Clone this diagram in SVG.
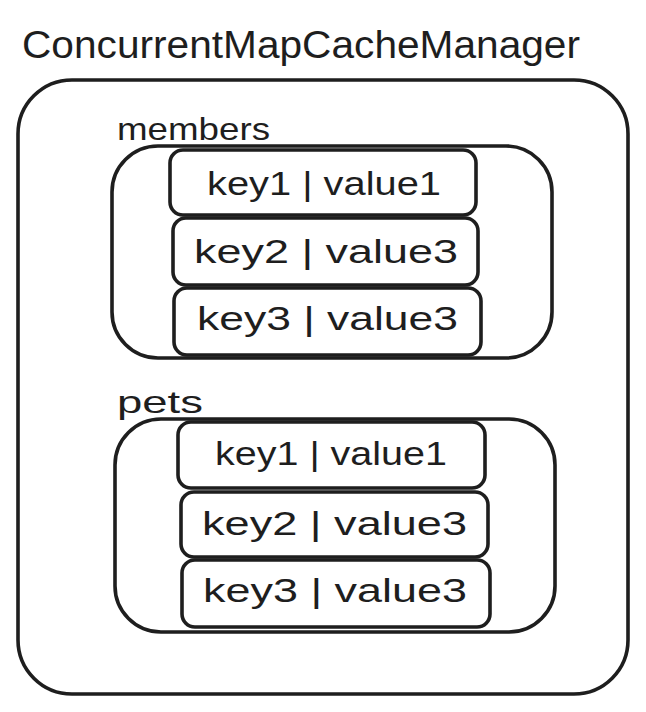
<svg xmlns="http://www.w3.org/2000/svg" width="646" height="712" viewBox="0 0 646 712">
<style>
.box{fill:none;stroke:#1e1e1e;stroke-width:3.6;stroke-linecap:round;stroke-linejoin:round}
.row{fill:#ffffff;stroke:#1e1e1e;stroke-width:3.6}
.t{font-family:"Liberation Sans",Arial,sans-serif;fill:#1e1e1e}
.kv{font-size:33px}
.lbl{font-size:32px}
</style>
<rect width="646" height="712" fill="#ffffff"/>
<g id="manager">
<text class="t" x="22" y="58" font-size="38" textLength="558" lengthAdjust="spacingAndGlyphs">ConcurrentMapCacheManager</text>
<rect class="box" x="18" y="80" width="610" height="614" rx="54"/>
</g>
<g id="members">
<text class="t lbl" x="117" y="140" textLength="153" lengthAdjust="spacingAndGlyphs">members</text>
<rect class="box" x="112" y="146" width="440" height="212" rx="46"/>
<g id="members-row1"><rect class="row" x="170" y="150" width="306" height="65" rx="13"/><text class="t kv" x="207" y="195" textLength="234" lengthAdjust="spacingAndGlyphs">key1 | value1</text></g>
<g id="members-row2"><rect class="row" x="173" y="218" width="305" height="67" rx="13"/><text class="t kv" x="194" y="263" textLength="264" lengthAdjust="spacingAndGlyphs">key2 | value3</text></g>
<g id="members-row3"><rect class="row" x="174" y="288" width="307" height="67" rx="13"/><text class="t kv" x="197" y="330" textLength="261" lengthAdjust="spacingAndGlyphs">key3 | value3</text></g>
</g>
<g id="pets">
<text class="t lbl" x="117" y="413" textLength="86" lengthAdjust="spacingAndGlyphs">pets</text>
<rect class="box" x="115" y="419" width="440" height="213" rx="46"/>
<g id="pets-row1"><rect class="row" x="178" y="422" width="307" height="66" rx="13"/><text class="t kv" x="215" y="465" textLength="232" lengthAdjust="spacingAndGlyphs">key1 | value1</text></g>
<g id="pets-row2"><rect class="row" x="181" y="492" width="307" height="65" rx="13"/><text class="t kv" x="202" y="535" textLength="265" lengthAdjust="spacingAndGlyphs">key2 | value3</text></g>
<g id="pets-row3"><rect class="row" x="182" y="560" width="308" height="67" rx="13"/><text class="t kv" x="203" y="602" textLength="264" lengthAdjust="spacingAndGlyphs">key3 | value3</text></g>
</g>
<g id="connectors"/>
</svg>
